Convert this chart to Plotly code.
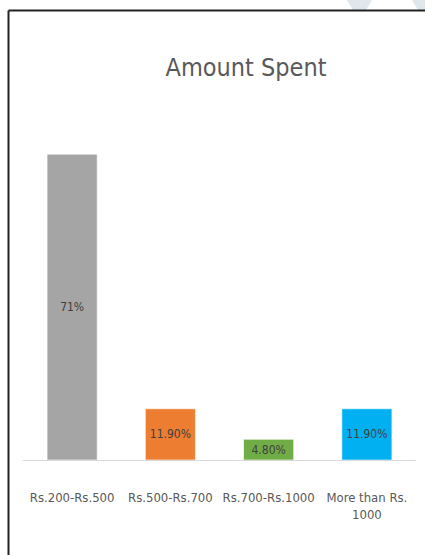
import plotly.graph_objects as go

categories = ["Rs.200-Rs.500", "Rs.500-Rs.700", "Rs.700-Rs.1000", "More than Rs.<br>1000"]
values = [71, 11.9, 4.8, 11.9]
labels = ["71%", "11.90%", "4.80%", "11.90%"]
colors = ["#A5A5A5", "#ED7D31", "#70AD47", "#00B0F0"]

W, H = 425, 555
L, R, T, B = 23, 9, 137, 95
pw, ph = W - L - R, H - T - B
FONT = "DejaVu Sans Condensed, Liberation Sans Narrow, Liberation Sans, sans-serif"

def px(x):
    return (x - L) / pw

def py(y):
    return (H - B - y) / ph

fig = go.Figure(go.Bar(
    x=categories, y=values, text=labels,
    marker=dict(color=colors, line=dict(color="rgba(255,255,255,0.6)", width=1)),
    textposition="inside", insidetextanchor="middle", constraintext="none", textangle=0,
    textfont=dict(family=FONT, size=12, color="#404040"),
    cliponaxis=False,
))

fig.update_layout(
    width=W, height=H,
    margin=dict(l=L, r=R, t=T, b=B, autoexpand=False),
    paper_bgcolor="white", plot_bgcolor="white",
    bargap=0.49,
    showlegend=False,
    title=dict(text="Amount Spent", x=246 / W, xanchor="center", y=1 - 67 / H, yanchor="middle",
               font=dict(family=FONT, size=25, color="#595959")),
    xaxis=dict(showline=True, linecolor="#D9D9D9", linewidth=1, ticks="", showgrid=False,
               tickangle=0, automargin=False,
               tickfont=dict(family=FONT, size=13, color="#595959"),
               ticklabelstandoff=25),
    yaxis=dict(range=[0, 75], visible=False, showgrid=False, zeroline=False, automargin=False),
    shapes=[
        dict(type="path", xref="paper", yref="paper",
             path=f"M {px(347)} {py(0)} L {px(372)} {py(0)} L {px(366)} {py(10)} L {px(353)} {py(10)} Z",
             fillcolor="#DFE7EC", line=dict(width=0), layer="below"),
        dict(type="path", xref="paper", yref="paper",
             path=f"M {px(412)} {py(0)} L {px(425)} {py(0)} L {px(425)} {py(10)} L {px(418)} {py(10)} Z",
             fillcolor="#DFE7EC", line=dict(width=0), layer="below"),
        dict(type="line", xref="paper", yref="paper", x0=px(8.5), x1=px(430), y0=py(10.5), y1=py(10.5),
             line=dict(color="#222222", width=2)),
        dict(type="line", xref="paper", yref="paper", x0=px(8.5), x1=px(8.5), y0=py(10.5), y1=py(560),
             line=dict(color="#222222", width=2)),
    ],
)

fig.write_html("out.html")
